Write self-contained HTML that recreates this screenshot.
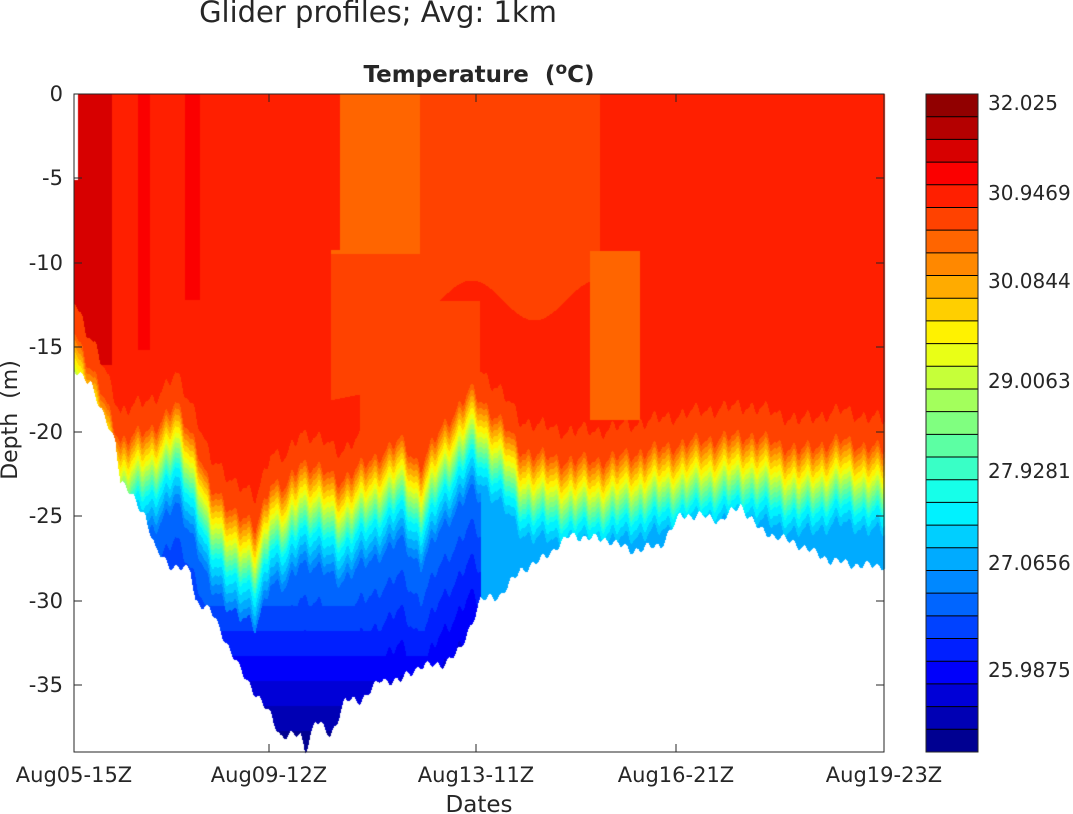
<!DOCTYPE html>
<html><head><meta charset="utf-8"><style>
html,body{margin:0;padding:0;background:#fff;}
body{width:1073px;height:814px;position:relative;overflow:hidden;font-family:"Liberation Sans","DejaVu Sans",sans-serif;}
canvas{position:absolute;left:0;top:0;}
svg{position:absolute;left:0;top:0;}
</style></head><body>
<canvas id="c" width="1073" height="814"></canvas>
<svg width="1073" height="814" xmlns="http://www.w3.org/2000/svg" font-family="DejaVu Sans, Liberation Sans, sans-serif" fill="#262626">
<text x="378" y="22" font-size="29" text-anchor="middle">Glider profiles; Avg: 1km</text>
<text x="479" y="82" font-size="23" font-weight="bold" text-anchor="middle">Temperature&#160;&#160;(<tspan dy="-8" font-size="17">o</tspan><tspan dy="8">C)</tspan></text>
<rect x="74" y="94" width="810" height="658" fill="none" stroke="#262626" stroke-width="1"/>
<g stroke="#262626">
<line x1="74" y1="94" x2="82" y2="94"/><line x1="876" y1="94" x2="884" y2="94"/>
<line x1="74" y1="178" x2="82" y2="178"/><line x1="876" y1="178" x2="884" y2="178"/>
<line x1="74" y1="263" x2="82" y2="263"/><line x1="876" y1="263" x2="884" y2="263"/>
<line x1="74" y1="347" x2="82" y2="347"/><line x1="876" y1="347" x2="884" y2="347"/>
<line x1="74" y1="432" x2="82" y2="432"/><line x1="876" y1="432" x2="884" y2="432"/>
<line x1="74" y1="516" x2="82" y2="516"/><line x1="876" y1="516" x2="884" y2="516"/>
<line x1="74" y1="601" x2="82" y2="601"/><line x1="876" y1="601" x2="884" y2="601"/>
<line x1="74" y1="685" x2="82" y2="685"/><line x1="876" y1="685" x2="884" y2="685"/>
<line x1="269" y1="752" x2="269" y2="744"/><line x1="269" y1="94" x2="269" y2="102"/>
<line x1="476" y1="752" x2="476" y2="744"/><line x1="476" y1="94" x2="476" y2="102"/>
<line x1="676" y1="752" x2="676" y2="744"/><line x1="676" y1="94" x2="676" y2="102"/>
</g>
<g font-size="21" text-anchor="end">
<text x="63" y="101">0</text><text x="63" y="185">-5</text><text x="63" y="270">-10</text>
<text x="63" y="354">-15</text><text x="63" y="439">-20</text><text x="63" y="523">-25</text>
<text x="63" y="608">-30</text><text x="63" y="692">-35</text>
</g>
<g font-size="21" text-anchor="middle">
<text x="74" y="782">Aug05-15Z</text><text x="269" y="782">Aug09-12Z</text><text x="476" y="782">Aug13-11Z</text>
<text x="676" y="782">Aug16-21Z</text><text x="884" y="782">Aug19-23Z</text>
<text x="479" y="812" font-size="23">Dates</text>
</g>
<text transform="translate(17,420) rotate(-90)" font-size="22" text-anchor="middle">Depth&#160;&#160;(m)</text>
<g id="cb"></g>
<g font-size="20">
<text x="988" y="110">32.025</text><text x="988" y="200">30.9469</text><text x="988" y="288">30.0844</text>
<text x="988" y="388">29.0063</text><text x="988" y="478">27.9281</text><text x="988" y="570">27.0656</text>
<text x="988" y="677">25.9875</text>
</g>
</svg>
<script>
const N=29;
function jet(t){const c=v=>Math.max(0,Math.min(1,v));return [c(1.5-Math.abs(4*t-3)),c(1.5-Math.abs(4*t-2)),c(1.5-Math.abs(4*t-1))].map(v=>Math.round(v*255));}
const cols=[];for(let i=0;i<N;i++)cols.push(jet((i+0.5)/N));
let s='';const x0=926,w=52,y0=94,h=658,bh=h/N;
for(let i=0;i<N;i++){const c=cols[N-1-i];const y=y0+i*bh;
s+=`<rect x="${x0}" y="${y.toFixed(2)}" width="${w}" height="${(bh+0.5).toFixed(2)}" fill="rgb(${c})"/>`;
if(i>0)s+=`<line x1="${x0}" x2="${x0+w}" y1="${y.toFixed(2)}" y2="${y.toFixed(2)}" stroke="#000" stroke-width="1"/>`;}
s+=`<rect x="${x0}" y="${y0}" width="${w}" height="${h}" fill="none" stroke="#262626"/>`;
document.getElementById('cb').innerHTML=s;
function interp(pts,x){for(let i=0;i<pts.length-1;i++){if(x<=pts[i+1][0]){const a=pts[i],b=pts[i+1];return a[1]+(b[1]-a[1])*(x-a[0])/(b[0]-a[0]);}}return pts[pts.length-1][1];}
const T=[[74,360],[100,420],[120,470],[150,460],[175,435],[195,470],[210,520],[240,545],[255,560],[270,510],[285,520],[300,490],[340,510],[370,490],[400,470],[420,495],[440,460],[470,420],[500,450],[520,480],[560,490],[600,490],[650,480],[700,470],[750,465],[800,480],[840,470],[884,480]];
const B=[[74,372],[90,380],[100,410],[115,440],[120,480],[145,515],[155,550],[170,565],[190,570],[195,600],[210,610],[225,640],[240,670],[260,700],[270,715],[280,735],[300,735],[305,750],[315,720],[330,735],[345,700],[360,700],[380,680],[400,680],[420,665],[440,665],[460,650],[480,600],[500,595],[520,570],[540,560],[570,535],[610,540],[630,550],[660,545],[680,515],[700,515],[720,520],[740,505],[760,530],[800,545],[830,560],[860,565],[884,565]];
const ctx=document.getElementById('c').getContext('2d');
const img=ctx.createImageData(811,659);
for(let x=74;x<=884;x++){
 const n=5*Math.sin(x*0.45)+2*Math.sin(x*0.9)+3*Math.sin(x*0.17);
 const t=interp(T,x)+n, b=interp(B,x)+3*Math.sin(x*0.6)+2*Math.sin(x*0.23);
 for(let y=94;y<=752;y++){
  const idx=((y-94)*811+(x-74))*4;
  let r=255,g=255,bl=255;
  const leftEdge=(x<78 && y<180);
  if(y<=b && !leftEdge){
   const d=y-t;let L=24.6;
   if(d<-30){L=24.6;
     if(x<112&&y<365)L=26.5;
     if(x>=138&&x<150&&y<350)L=25.6;
     if(x>=185&&x<200&&y<300)L=25.6;
     if(x>330&&x<420&&y<400-0.2*(x-330))L=22.6+(y-94)/400;
     if(x>=420&&x<600&&y<300+20*Math.sin(x*0.05))L=23.5;
     if(x>=590&&x<640&&y<420&&y>250)L=22.8;
     if(x>=300&&x<340&&y<250)L=24.2;
     if(x>=360&&x<480&&y>300)L=Math.min(L,23.6);
     if(d>-60)L=Math.min(L,23.4);
   }
   else if(d<0)L=18+(-d)/30*5;
   else if(d<35)L=18-d/35*7;
   else if(d<70)L=11-(d-35)/35*4;
   else L=7-(d-70)/35;
   if(d>=70){const deep=(y-580)/40; if(deep>0)L=Math.min(L,7-deep*1.6);}
   if(x>480&&d>40)L=Math.max(L,8.2);
   L=Math.max(0.2,Math.min(28.8,L));
   const c=cols[Math.floor(L)];r=c[0];g=c[1];bl=c[2];
  }
  img.data[idx]=r;img.data[idx+1]=g;img.data[idx+2]=bl;img.data[idx+3]=255;
 }}
ctx.putImageData(img,74,94);
</script>
</body></html>
